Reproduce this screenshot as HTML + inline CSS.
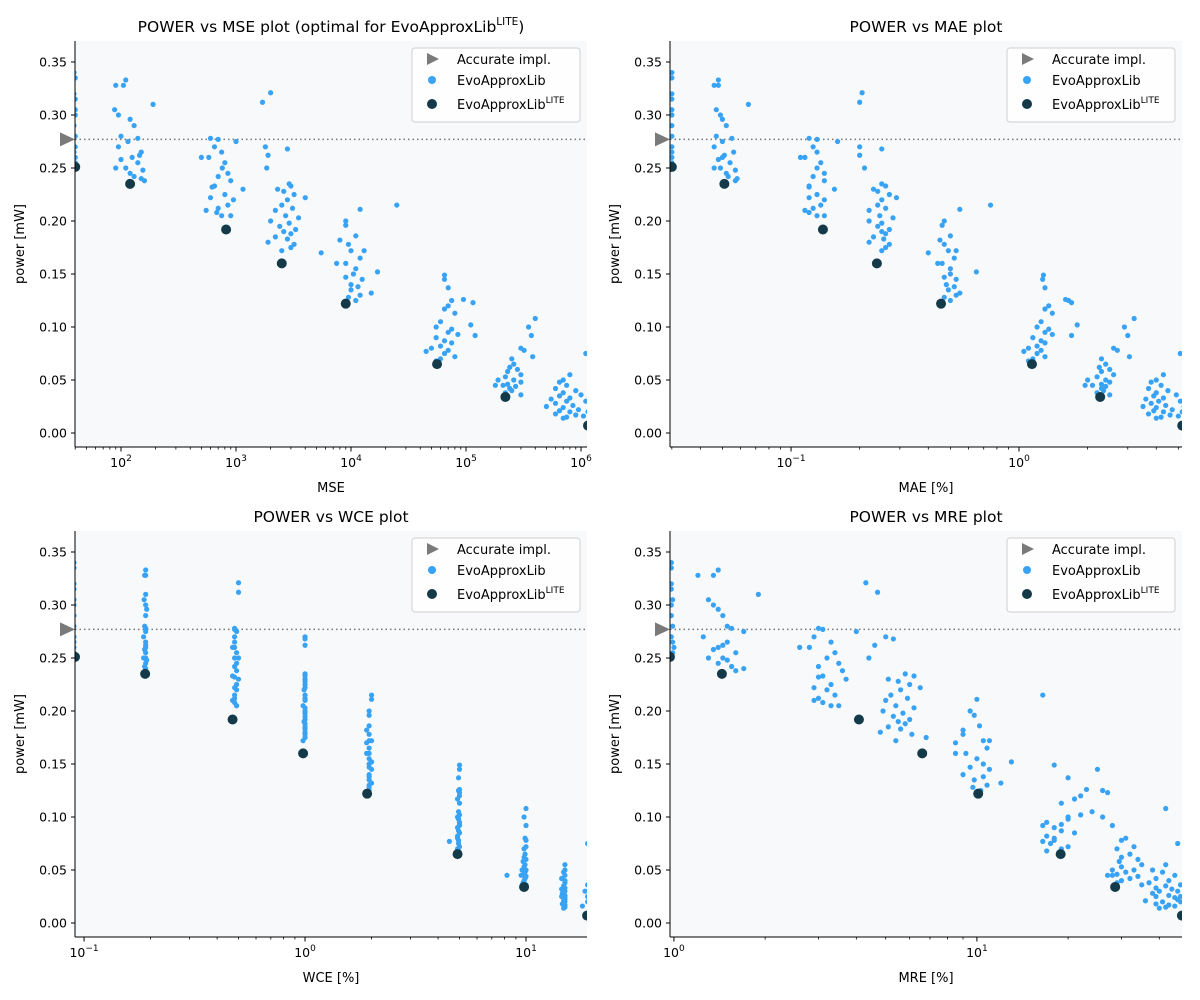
<!DOCTYPE html>
<html><head><meta charset="utf-8">
<style>
html,body{margin:0;padding:0;background:#fff;}
svg{display:block;font-family:"DejaVu Sans","Liberation Sans",sans-serif;}
</style></head>
<body>
<svg id="fig" width="1200" height="1000" viewBox="0 0 1200 1000"></svg>
<script>
// rows: [power, mse, mae, wce, mre]
const evoCluster0 = [[0.34,39,0.03,0.09,0.98],[0.315,40,0.03,0.09,0.98],[0.305,40,0.03,0.09,0.99],[0.29,39,0.03,0.09,0.98],[0.28,40,0.03,0.09,0.99],[0.27,40,0.03,0.09,0.98],[0.265,39,0.03,0.09,0.99],[0.26,40,0.03,0.09,1.0],[0.255,40,0.03,0.09,0.99],[0.335,40,0.03,0.09,0.98],[0.32,39,0.03,0.09,0.98],[0.3,40,0.03,0.09,0.98]];
const evoCluster1 = [[0.333,110,0.048,0.19,1.4],[0.328,90,0.046,0.19,1.2],[0.328,105,0.048,0.188,1.35],[0.31,190,0.065,0.19,1.9],[0.305,88,0.047,0.187,1.3],[0.30,95,0.049,0.19,1.35],[0.296,120,0.05,0.192,1.4],[0.29,130,0.052,0.19,1.45],[0.28,100,0.047,0.188,1.5],[0.278,140,0.055,0.19,1.55],[0.275,115,0.05,0.19,1.7],[0.27,95,0.046,0.186,1.25],[0.265,150,0.056,0.19,1.5],[0.26,125,0.05,0.19,1.4],[0.258,100,0.048,0.188,1.35],[0.255,140,0.054,0.19,1.6],[0.25,110,0.049,0.19,1.45],[0.248,155,0.057,0.192,1.5],[0.245,120,0.052,0.19,1.4],[0.242,130,0.053,0.188,1.55],[0.24,150,0.058,0.19,1.7],[0.238,160,0.057,0.19,1.6],[0.25,90,0.046,0.186,1.3],[0.262,145,0.051,0.19,1.45]];
const evoCluster2 = [[0.278,600,0.12,0.48,3.0],[0.277,700,0.13,0.48,3.1],[0.275,1000,0.16,0.49,4.0],[0.27,650,0.125,0.48,2.9],[0.265,750,0.13,0.48,3.3],[0.26,500,0.11,0.47,2.6],[0.26,580,0.115,0.48,2.8],[0.255,800,0.135,0.49,3.4],[0.25,760,0.13,0.48,3.2],[0.245,850,0.14,0.49,3.5],[0.242,700,0.125,0.48,3.0],[0.238,900,0.14,0.49,3.6],[0.233,650,0.12,0.47,3.1],[0.23,1150,0.155,0.5,3.7],[0.225,800,0.13,0.49,3.3],[0.222,600,0.12,0.48,2.9],[0.22,950,0.14,0.49,3.2],[0.215,850,0.135,0.48,3.4],[0.212,700,0.125,0.48,3.0],[0.21,550,0.115,0.47,2.9],[0.208,680,0.12,0.48,3.1],[0.205,750,0.13,0.49,3.3],[0.205,900,0.14,0.49,3.5],[0.232,620,0.12,0.48,3.0]];
const evoCluster3 = [[0.321,2000,0.205,0.5,4.3],[0.312,1700,0.2,0.5,4.7],[0.27,1800,0.2,1.0,5.0],[0.268,2800,0.25,1.0,5.3],[0.262,1900,0.2,1.0,4.6],[0.25,1850,0.21,0.5,4.4],[0.235,2900,0.25,1.0,5.8],[0.233,3000,0.26,1.0,6.2],[0.23,2300,0.23,1.0,5.1],[0.228,2600,0.24,1.0,5.5],[0.225,3200,0.27,1.0,6.0],[0.222,4000,0.29,1.0,6.5],[0.22,2800,0.25,0.99,5.6],[0.215,2500,0.24,1.0,5.2],[0.212,3100,0.26,1.0,5.9],[0.21,2200,0.22,1.0,5.0],[0.205,2700,0.245,0.98,5.4],[0.203,3500,0.28,1.0,6.2],[0.2,2000,0.22,1.0,4.9],[0.198,2900,0.25,1.0,5.7],[0.195,2400,0.24,1.0,5.3],[0.192,3300,0.27,1.0,6.0],[0.19,2600,0.25,0.99,5.5],[0.188,3000,0.26,1.0,5.8],[0.185,2200,0.23,1.0,5.1],[0.183,2800,0.255,1.0,5.6],[0.18,1900,0.22,1.0,4.8],[0.178,3200,0.27,1.0,6.1],[0.175,3000,0.26,1.0,6.8],[0.172,2500,0.25,0.98,5.4]];
const evoCluster4 = [[0.215,25000,0.75,2.0,16.5],[0.211,12000,0.55,2.0,10],[0.2,9000,0.47,1.95,9.5],[0.196,9000,0.46,1.95,9.8],[0.186,11000,0.5,1.95,10.2],[0.182,8000,0.45,1.9,9.0],[0.178,9500,0.47,1.95,9.0],[0.172,13000,0.53,2.0,11],[0.172,10000,0.49,1.95,10.5],[0.17,5500,0.4,1.9,8.5],[0.165,12000,0.52,1.95,10.8],[0.16,9000,0.46,1.95,9.2],[0.16,7500,0.44,1.9,8.5],[0.155,11000,0.5,1.95,10],[0.152,17000,0.65,2.0,13],[0.15,10500,0.5,1.95,10.5],[0.147,9000,0.47,1.95,9.5],[0.145,12500,0.53,2.0,11],[0.14,10000,0.48,1.95,9.0],[0.138,11500,0.52,1.95,10.5],[0.135,10000,0.49,1.95,9.8],[0.132,15000,0.55,2.0,12],[0.13,12000,0.53,1.95,10.8],[0.128,9500,0.47,1.95,9.7],[0.125,11000,0.5,1.95,10.3]];
const evoCluster5 = [[0.149,65000,1.28,5.0,18],[0.145,65000,1.27,5.0,25],[0.137,70000,1.3,4.95,20],[0.126,95000,1.6,5.0,23],[0.125,75000,1.65,4.95,26],[0.123,115000,1.7,5.0,27],[0.12,70000,1.35,5.0,22],[0.117,65000,1.3,4.9,21],[0.113,80000,1.4,5.0,19],[0.105,60000,1.25,4.95,24],[0.102,110000,1.8,5.0,22],[0.1,55000,1.2,4.9,20],[0.098,75000,1.35,4.95,20],[0.095,70000,1.3,5.0,17],[0.093,85000,1.4,5.0,19],[0.09,55000,1.15,4.9,18],[0.092,120000,1.7,5.0,16.5],[0.087,65000,1.25,4.95,19],[0.085,75000,1.3,5.0,21],[0.082,60000,1.2,4.9,17],[0.08,50000,1.1,4.9,18],[0.078,70000,1.25,4.95,18],[0.077,45000,1.05,4.5,16.5],[0.075,65000,1.2,4.95,17.5],[0.072,80000,1.3,5.0,20],[0.07,60000,1.15,4.9,19],[0.068,55000,1.1,4.95,17]];
const evoCluster6 = [[0.108,400000,3.2,10,42],[0.1,350000,2.9,9.8,26],[0.092,370000,3.0,10,28],[0.08,300000,2.6,9.9,31],[0.078,320000,2.7,10,30],[0.072,380000,3.05,10,33],[0.07,250000,2.3,9.8,29],[0.065,260000,2.4,9.9,32],[0.062,240000,2.25,9.8,30],[0.06,280000,2.5,10,34],[0.058,230000,2.3,9.7,29.5],[0.055,300000,2.6,9.9,35],[0.053,220000,2.2,9.8,30],[0.05,260000,2.4,10,33],[0.05,190000,2.0,9.6,28],[0.048,300000,2.5,9.9,31],[0.046,230000,2.3,9.8,29],[0.045,180000,1.95,8.2,27],[0.044,270000,2.4,10,34],[0.042,240000,2.3,9.9,32],[0.04,250000,2.35,9.8,30],[0.038,220000,2.2,9.7,29],[0.036,300000,2.5,10,35],[0.045,210000,2.1,9.5,28]];
const evoCluster7 = [[0.075,1100000,5.1,19,46],[0.055,800000,4.3,15,42],[0.05,700000,4.0,15,38],[0.048,650000,3.8,14.8,41],[0.045,750000,4.2,15,45],[0.042,600000,3.7,14.5,39],[0.04,900000,4.5,15,43],[0.038,700000,4.0,15,37],[0.036,1000000,4.9,19,47],[0.035,650000,3.9,14.8,42],[0.033,800000,4.3,15,39],[0.032,550000,3.6,14.5,44],[0.03,750000,4.1,15,40],[0.03,1100000,5.1,18.5,46],[0.028,600000,3.8,14.6,38],[0.026,850000,4.4,15,43],[0.025,500000,3.5,14.5,39],[0.024,700000,4.0,15,45],[0.022,950000,4.7,15,46],[0.021,650000,3.9,14.8,36],[0.02,800000,4.3,15,41],[0.02,1150000,5.2,19,47],[0.018,600000,3.7,14.6,39],[0.017,900000,4.6,15,43],[0.016,1050000,5.0,18,45],[0.015,750000,4.2,15,42],[0.014,700000,4.0,14.8,40],[0.025,1200000,5.3,19,47]];
const liteRows = [[0.251,40,0.03,0.091,0.97],[0.235,120,0.051,0.189,1.44],[0.192,820,0.138,0.47,4.08],[0.160,2500,0.238,0.98,6.6],[0.122,9000,0.455,1.91,10.1],[0.065,56000,1.14,4.9,18.9],[0.034,220000,2.27,9.8,28.6],[0.007,1150000,5.2,18.9,47.5]];
const accuratePower = 0.277;
const yTicks = [0.00,0.05,0.10,0.15,0.20,0.25,0.30,0.35];
const yDomain = [-0.0132, 0.3698];
const evoRows = [].concat(evoCluster0,evoCluster1,evoCluster2,evoCluster3,evoCluster4,evoCluster5,evoCluster6,evoCluster7);

const NS = "http://www.w3.org/2000/svg";
const svg = document.getElementById('fig');
function mk(tag, attrs, parent, text){
  const e = document.createElementNS(NS, tag);
  for (const k in attrs) e.setAttribute(k, attrs[k]);
  if (text !== undefined) e.textContent = text;
  (parent||svg).appendChild(e);
  return e;
}
const panels = [
  {key:'mse', col:1, x0:75, y0:41, lx:[1.6,6.052], title:'POWER vs MSE plot (optimal for EvoApproxLib', sup:true, xlabel:'MSE', ticks:[2,3,4,5,6]},
  {key:'mae', col:2, x0:670, y0:41, lx:[-1.531,0.715], title:'POWER vs MAE plot', xlabel:'MAE [%]', ticks:[-1,0]},
  {key:'wce', col:3, x0:75, y0:531, lx:[-1.041,1.276], title:'POWER vs WCE plot', xlabel:'WCE [%]', ticks:[-1,0,1]},
  {key:'mre', col:4, x0:670, y0:531, lx:[-0.013,1.677], title:'POWER vs MRE plot', xlabel:'MRE [%]', ticks:[0,1]}
];
const W = 512, H = 406;
panels.forEach((p, pi) => {
  const g = mk('g', {});
  
  
  const xs = v => p.x0 + (Math.log10(v) - p.lx[0]) / (p.lx[1] - p.lx[0]) * W;
  const ys = v => p.y0 + H - (v - yDomain[0]) / (yDomain[1] - yDomain[0]) * H;
  const bg = mk('rect', {x:p.x0, y:p.y0, width:W, height:H, fill:'#f7f9fb'}, g);
  
  
  const cid = 'clip' + pi;
  const cp = mk('clipPath', {id:cid}, g);
  mk('rect', {x:p.x0, y:p.y0, width:W, height:H}, cp);
  const al = mk('line', {x1:p.x0, x2:p.x0+W, y1:ys(accuratePower), y2:ys(accuratePower), stroke:'#777', 'stroke-width':1.5, 'stroke-dasharray':'1.5,3'}, g);
  
  
  const pts = mk('g', {'clip-path':'url(#'+cid+')'}, g);
  
  
  evoRows.forEach(r => {
    const c = mk('circle', {cx:xs(r[p.col]), cy:ys(r[0]), r:2.6, fill:'#38a2f5'}, pts);
    
    
  });
  const lg = mk('g', {'clip-path':'url(#'+cid+')'}, g);
  
  
  liteRows.forEach(r => {
    const c = mk('circle', {cx:xs(r[p.col]), cy:ys(r[0]), r:5, fill:'#143a4a'}, lg);
    
    
  });
  const ty = ys(accuratePower), tx = p.x0 - 8;
  const tri = mk('polygon', {points:`${tx-7},${ty-7} ${tx+8},${ty} ${tx-7},${ty+7}`, fill:'#7a7a7a'}, g);
  
  
  mk('line', {x1:p.x0, x2:p.x0, y1:p.y0, y2:p.y0+H, stroke:'#000', 'stroke-width':1}, g);
  mk('line', {x1:p.x0, x2:p.x0+W, y1:p.y0+H, y2:p.y0+H, stroke:'#000', 'stroke-width':1}, g);
  yTicks.forEach(t => {
    const y = ys(t);
    mk('line', {x1:p.x0-4, x2:p.x0, y1:y, y2:y, stroke:'#000'}, g);
    const tl = mk('text', {x:p.x0-8, y:y+4.5, 'font-size':12.5, 'text-anchor':'end'}, g, t.toFixed(2));
    
    
  });
  const yb = p.y0 + H;
  for (let d = Math.floor(p.lx[0]); d <= Math.ceil(p.lx[1]); d++) {
    for (let m = 2; m <= 9; m++) {
      const lv = d + Math.log10(m);
      if (lv < p.lx[0] || lv > p.lx[1]) continue;
      const x = p.x0 + (lv - p.lx[0]) / (p.lx[1]-p.lx[0]) * W;
      mk('line', {x1:x, x2:x, y1:yb, y2:yb+2.5, stroke:'#000', 'stroke-width':0.8}, g);
    }
  }
  p.ticks.forEach(t => {
    const x = xs(Math.pow(10, t));
    mk('line', {x1:x, x2:x, y1:yb, y2:yb+4.5, stroke:'#000'}, g);
    const tl = mk('text', {x:x, y:yb+20, 'font-size':12.5, 'text-anchor':'middle'}, g);
    
    
    mk('tspan', {}, tl, '10');
    mk('tspan', {dy:-6, 'font-size':9}, tl, String(t).replace('-', '\u2212'));
  });
  const xl = mk('text', {x:p.x0+W/2, y:yb+45, 'font-size':13, 'text-anchor':'middle'}, g, p.xlabel);
  
  
  const yl = mk('text', {x:0, y:0, 'font-size':13, 'text-anchor':'middle', transform:`translate(${p.x0-51},${p.y0+H/2}) rotate(-90)`}, g, 'power [mW]');
  
  
  const tt = mk('text', {x:p.x0+W/2, y:p.y0-9, 'font-size':15.5, 'text-anchor':'middle'}, g);
  
  
  mk('tspan', {}, tt, p.title);
  if (p.sup) { mk('tspan', {dy:-7, 'font-size':10.5}, tt, 'LITE'); mk('tspan', {dy:7}, tt, ')'); }
  const L = mk('g', {});
  
  
  g.appendChild(L);
  const lx = p.x0 + W - 175, ly = p.y0 + 7;
  mk('rect', {x:lx, y:ly, width:168, height:74, rx:3, fill:'#fff', 'fill-opacity':0.85, stroke:'#d0d0d0'}, L);
  mk('polygon', {points:`${lx+15},${ly+5} ${lx+27},${ly+11} ${lx+15},${ly+17}`, fill:'#7a7a7a'}, L);
  const e1 = mk('text', {x:lx+45, y:ly+16, 'font-size':13}, L, 'Accurate impl.');
  
  
  mk('circle', {cx:lx+20, cy:ly+32, r:4, fill:'#38a2f5'}, L);
  const e2 = mk('text', {x:lx+45, y:ly+37, 'font-size':13}, L, 'EvoApproxLib');
  
  
  mk('circle', {cx:lx+20, cy:ly+56, r:5, fill:'#143a4a'}, L);
  const e3 = mk('text', {x:lx+45, y:ly+61, 'font-size':13}, L);
  
  
  mk('tspan', {}, e3, 'EvoApproxLib');
  mk('tspan', {dy:-6, 'font-size':9}, e3, 'LITE');
});
</script>
</body></html>
